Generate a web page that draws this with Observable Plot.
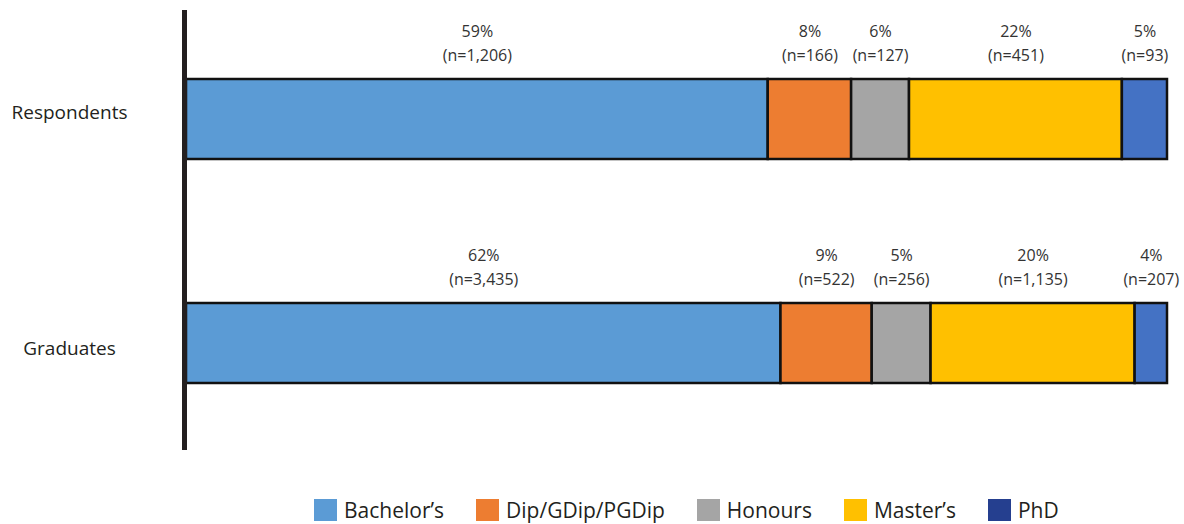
<!DOCTYPE html>
<html>
<head>
<meta charset="utf-8">
<script src="https://cdn.jsdelivr.net/npm/d3@7"></script>
<script src="https://cdn.jsdelivr.net/npm/@observablehq/plot@0.6"></script>
<style>
  html, body { margin: 0; padding: 0; background: #fff; }
  body { width: 1184px; height: 524px; overflow: hidden; font-family: "Open Sans", sans-serif; }
  #legend { display: flex; align-items: center; margin-left: 314px; margin-top: 6px; height: 24px; }
  .item { display: flex; align-items: center; margin-right: 32px; font-size: 21px; line-height: 24px; color: #231f20; font-family: "Open Sans", sans-serif; }
  .sw { width: 23px; height: 22px; margin-right: 7px; }
</style>
</head>
<body>
<div id="chart"></div>
<div id="legend"></div>
<script>
const rows = ["Respondents", "Graduates"];
const categories = ["Bachelor’s", "Dip/GDip/PGDip", "Honours", "Master’s", "PhD"];
// bar shares (percent) as drawn in the picture
const respondentsShare = [59.3, 8.5, 5.9, 21.7, 4.6];
const graduatesShare = [60.6, 9.3, 6.0, 20.8, 3.3];
// printed labels
const respondentsPct = ["59%", "8%", "6%", "22%", "5%"];
const graduatesPct = ["62%", "9%", "5%", "20%", "4%"];
const respondentsN = ["1,206", "166", "127", "451", "93"];
const graduatesN = ["3,435", "522", "256", "1,135", "207"];
const barColors = ["#5B9BD5", "#ED7D31", "#A5A5A5", "#FFC000", "#4472C4"];
const legendColors = ["#5B9BD5", "#ED7D31", "#A5A5A5", "#FFC000", "#253F8F"];

const shares = {Respondents: respondentsShare, Graduates: graduatesShare};
const pcts = {Respondents: respondentsPct, Graduates: graduatesPct};
const ns = {Respondents: respondentsN, Graduates: graduatesN};

const data = [];
for (const r of rows) {
  let acc = 0;
  categories.forEach((c, i) => {
    const v = shares[r][i];
    data.push({row: r, cat: c, x1: acc, x2: acc + v, mid: acc + v / 2, pct: pcts[r][i], n: "(n=" + ns[r][i] + ")"});
    acc += v;
  });
}

const chart = Plot.plot({
  width: 1184,
  height: 492,
  marginLeft: 186,
  marginRight: 17,
  marginTop: 10,
  marginBottom: 42,
  style: {fontFamily: "Open Sans, sans-serif", color: "#333"},
  x: {domain: [0, 100], axis: null},
  y: {domain: rows, range: [79, 383], paddingInner: 0.643, paddingOuter: 0, axis: null},
  color: {domain: categories, range: barColors},
  marks: [
    Plot.barX(data, {x1: "x1", x2: "x2", y: "row", fill: "cat", stroke: "#111", strokeWidth: 2.5}),
    Plot.text(data, {x: "mid", y: "row", text: "pct", dy: -88, fontSize: 16, fill: "#333"}),
    Plot.text(data, {x: "mid", y: "row", text: "n", dy: -64, fontSize: 16, fill: "#333"}),
    Plot.text([rows[0]], {x: 0, y: d => d, text: d => d, dx: -117, dy: -7, fontSize: 19, fill: "#231f20"}),
    Plot.text([rows[1]], {x: 0, y: d => d, text: d => d, dx: -117, dy: 5, fontSize: 19, fill: "#231f20"}),
    Plot.ruleX([0], {dx: -2, stroke: "#231f20", strokeWidth: 5})
  ]
});
document.getElementById("chart").appendChild(chart);

const legend = document.getElementById("legend");
categories.forEach((c, i) => {
  const it = document.createElement("div");
  it.className = "item";
  const sw = document.createElement("div");
  sw.className = "sw";
  sw.style.background = legendColors[i];
  const t = document.createElement("span");
  t.textContent = c;
  it.appendChild(sw);
  it.appendChild(t);
  legend.appendChild(it);
});
</script>
</body>
</html>
